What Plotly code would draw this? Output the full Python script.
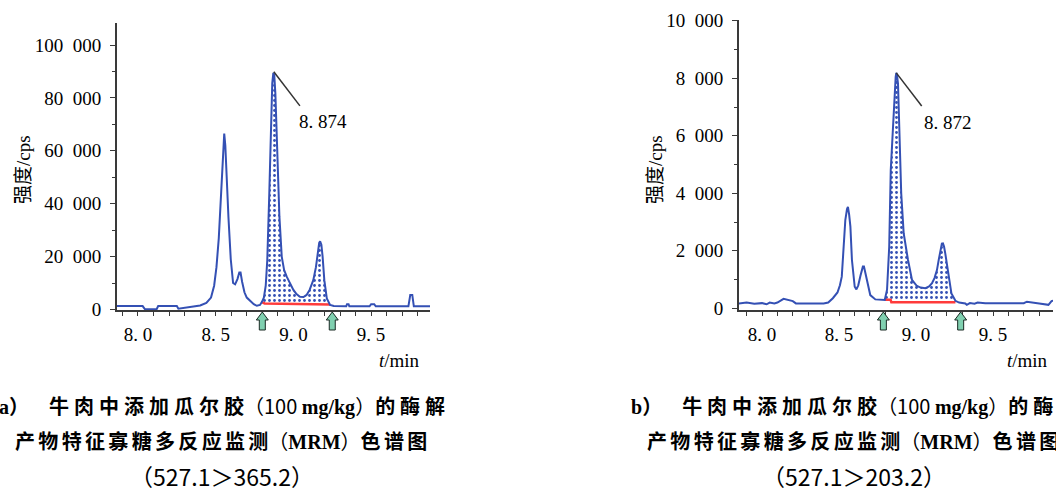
import numpy as np
import plotly.graph_objects as go

W, H = 1056, 488

# ---------------- data: panel a (527.1>365.2) ----------------
time_a = [7.865, 8.03, 8.045, 8.12, 8.13, 8.25, 8.26, 8.40, 8.44, 8.47, 8.49, 8.505,
          8.52, 8.535, 8.548, 8.555, 8.562, 8.570, 8.582, 8.597, 8.612, 8.625, 8.640,
          8.652, 8.660, 8.670, 8.685, 8.700, 8.720, 8.745, 8.765, 8.785, 8.797, 8.810,
          8.822, 8.832, 8.845, 8.854, 8.864, 8.871, 8.877, 8.884, 8.897, 8.910, 8.925,
          8.940, 8.957, 8.980, 9.000, 9.020, 9.042, 9.065, 9.085, 9.105, 9.128, 9.145,
          9.156, 9.166, 9.172, 9.180, 9.188, 9.199, 9.215, 9.236, 9.260, 9.340, 9.345,
          9.355, 9.360, 9.490, 9.500, 9.520, 9.530, 9.740, 9.745, 9.752, 9.765, 9.772,
          9.775, 9.880]
intensity_a = [1300, 1300, 100, 100, 1300, 1300, 300, 1500, 2500, 4500, 9000, 16000,
               27000, 44000, 60000, 66500, 62000, 50000, 35000, 19000, 10000, 9500, 11500,
               14000, 14000, 10500, 6500, 4500, 3200, 2000, 1400, 1700, 2800, 4500,
               9000, 18700, 43900, 67900, 85500, 89500, 88500, 81700, 60300, 35100, 20000,
               15000, 12400, 9500, 7400, 5800, 4800, 4700, 5500, 7500, 11100, 16000,
               21200, 25200, 25800, 24500, 20000, 11100, 4200, 1700, 1300, 1200, 2000,
               2000, 1200, 1200, 2000, 2000, 1200, 1200, 3000, 5500, 5500, 3000,
               1200, 1200]
baseline_a_t = [8.797, 8.815, 9.236]
baseline_a_v = [2800, 2300, 1900]
arrows_a = [8.800, 9.250]
apex_a = (8.874, 89900)
label_a = "8. 874"
leader_end_a = (9.042, 77000)
label_pos_a = (9.020, 71000)

# ---------------- data: panel b (527.1>203.2) ----------------
time_b = [7.850, 7.90, 7.95, 8.00, 8.03, 8.05, 8.08, 8.10, 8.14, 8.16, 8.20, 8.22, 8.30,
          8.40, 8.43, 8.46, 8.49, 8.506, 8.518, 8.530, 8.541, 8.552, 8.558, 8.566, 8.574,
          8.584, 8.602, 8.613, 8.625, 8.640, 8.655, 8.662, 8.670, 8.680, 8.703, 8.736,
          8.797, 8.812, 8.820, 8.826, 8.836, 8.847, 8.859, 8.868, 8.872, 8.877, 8.883,
          8.894, 8.904, 8.920, 8.935, 8.948, 8.974, 9.006, 9.030, 9.061, 9.085, 9.104,
          9.120, 9.136, 9.148, 9.158, 9.168, 9.175, 9.182, 9.190, 9.208, 9.230, 9.256,
          9.280, 9.320, 9.330, 9.350, 9.380, 9.400, 9.450, 9.600, 9.700, 9.720, 9.750,
          9.800, 9.860, 9.880, 9.890]
intensity_b = [170, 200, 160, 180, 140, 200, 170, 200, 330, 300, 250, 170, 170,
               170, 200, 350, 550, 800, 1100, 2140, 3070, 3450, 3530, 3250, 2840,
               1680, 750, 660, 800, 1150, 1450, 1450, 1250, 985, 460, 310,
               290, 650, 1300, 2140, 4810, 5970, 7480, 8050, 8190, 8100, 7820,
               6090, 4000, 2610, 2100, 1680, 985, 775, 720, 700, 760, 870,
               1050, 1330, 1700, 2030, 2250, 2260, 2150, 1910, 1220, 520, 260,
               200, 170, 120, 180, 160, 200, 180, 180, 180, 230, 200,
               170, 120, 250, 260]
baseline_b_t = [8.797, 8.835, 8.840, 9.256]
baseline_b_v = [300, 300, 210, 210]
arrows_b = [8.788, 9.290]
apex_b = (8.872, 8190)
label_b = "8. 872"
leader_end_b = (9.037, 7035)
label_pos_b = (9.040, 6455)

x_tickvals = [8.0, 8.5, 9.0, 9.5]
x_ticktext = ["8. 0", "8. 5", "9. 0", "9. 5"]
y_tickvals_a = [0, 20000, 40000, 60000, 80000, 100000]
y_ticktext_a = ["0", "20\u2002000", "40\u2002000", "60\u2002000", "80\u2002000", "100\u2002000"]
y_tickvals_b = [0, 2000, 4000, 6000, 8000, 10000]
y_ticktext_b = ["0", "2\u2002000", "4\u2002000", "6\u2002000", "8\u2002000", "10\u2002000"]

caption_tags = ["a）", "b）"]
caption_line1 = ("牛肉中添加瓜尔胶", "100", "mg/kg", "的酶解")
caption_line2 = ("产物特征寡糖多反应监测", "MRM", "色谱图")
caption_line3 = ["（527.1＞365.2）", "（527.1＞203.2）"]

BLUE = "#3450b4"
RED = "#ff3b3b"
AX = "#3a3a3a"
SERIF = "Liberation Serif, DejaVu Serif, serif"
CJK = "Noto Sans CJK SC, sans-serif"

fig = go.Figure()


def add_panel(t, v, bt, bv, xa, ya):
    t = np.asarray(t); v = np.asarray(v)
    mask = (t >= bt[0]) & (t <= bt[-1])
    fig.add_trace(go.Scatter(x=bt, y=bv, mode="lines", line=dict(width=0, color=RED),
                             xaxis=xa, yaxis=ya, showlegend=False, hoverinfo="skip"))
    seg_t = np.concatenate([[bt[0]], t[mask], [bt[-1]]])
    seg_v = np.concatenate([[bv[0]], v[mask], [bv[-1]]])
    fig.add_trace(go.Scatter(x=seg_t, y=seg_v, mode="lines", line=dict(width=0, color=BLUE),
                             fill="tonexty", fillcolor="white",
                             fillpattern=dict(shape=".", fgcolor=BLUE, bgcolor="white",
                                              size=5, solidity=0.25),
                             xaxis=xa, yaxis=ya, showlegend=False, hoverinfo="skip"))
    fig.add_trace(go.Scatter(x=bt, y=bv, mode="lines", line=dict(width=2.5, color=RED),
                             xaxis=xa, yaxis=ya, showlegend=False, hoverinfo="skip"))
    fig.add_trace(go.Scatter(x=t, y=v, mode="lines", line=dict(width=2, color=BLUE),
                             xaxis=xa, yaxis=ya, showlegend=False))


add_panel(time_a, intensity_a, baseline_a_t, baseline_a_v, "x", "y")
add_panel(time_b, intensity_b, baseline_b_t, baseline_b_v, "x2", "y2")

px_x = lambda p: p / W
px_y = lambda p: 1 - p / H

common_x = dict(showline=True, linecolor=AX, linewidth=2, ticks="outside", ticklen=4,
                tickwidth=1, tickcolor=AX, tickmode="array", tickvals=x_tickvals,
                ticktext=x_ticktext, showgrid=False, zeroline=False, automargin=False,
                tickfont=dict(family=SERIF, size=19, color="black"),
                ticklabelstandoff=2,
                minor=dict(tickmode="linear", tick0=8.0, dtick=0.1, ticks="outside",
                           ticklen=4, tickcolor=AX, tickwidth=1, showgrid=False))
common_y = dict(showline=True, linecolor=AX, linewidth=2, ticks="outside", ticklen=5,
                tickwidth=1, tickcolor=AX, tickmode="array", showgrid=False, zeroline=False,
                automargin=False,
                tickfont=dict(family=SERIF, size=19, color="black"), ticklabelstandoff=5)

fig.update_layout(
    template="none",
    width=W, height=H, autosize=False,
    margin=dict(l=0, r=0, t=0, b=0, pad=0),
    paper_bgcolor="white", plot_bgcolor="white",
    xaxis=dict(common_x, domain=[px_x(117), px_x(430)], range=[7.865, 9.879], anchor="y"),
    yaxis=dict(common_y, domain=[px_y(310), px_y(23)], range=[-190, 108318], anchor="x",
               tickvals=y_tickvals_a, ticktext=y_ticktext_a,
               minor=dict(tickmode="linear", tick0=0, dtick=10000, ticks="outside",
                          ticklen=3, tickcolor=AX, showgrid=False)),
    xaxis2=dict(common_x, domain=[px_x(739), px_x(1053)], range=[7.8506, 9.8896], anchor="y2"),
    yaxis2=dict(common_y, domain=[px_y(310), px_y(20)], range=[-59, 10029], anchor="x2",
                tickvals=y_tickvals_b, ticktext=y_ticktext_b,
                minor=dict(tickmode="linear", tick0=0, dtick=1000, ticks="outside",
                           ticklen=3, tickcolor=AX, showgrid=False)),
)

shapes = []
annotations = []

for xa, ya, arrows, apex, lend, lpos, lab in [
        ("x", "y", arrows_a, apex_a, leader_end_a, label_pos_a, label_a),
        ("x2", "y2", arrows_b, apex_b, leader_end_b, label_pos_b, label_b)]:
    for t in arrows:
        shapes.append(dict(type="path", xref=xa, yref="paper", xsizemode="pixel",
                           ysizemode="pixel", xanchor=t, yanchor=px_y(310),
                           path="M0,-2 L6,-10 L3,-10 L3,-20 L-3,-20 L-3,-10 L-6,-10 Z",
                           fillcolor="#80d0b0", line=dict(color="#1a2a24", width=1),
                           layer="above"))
    shapes.append(dict(type="line", xref=xa, yref=ya, x0=apex[0], y0=apex[1],
                       x1=lend[0], y1=lend[1], line=dict(color="#333333", width=1.5)))
    annotations.append(dict(xref=xa, yref=ya, x=lpos[0], y=lpos[1], text=lab,
                            showarrow=False, xanchor="left", yanchor="middle",
                            font=dict(family=SERIF, size=19, color="black")))

# axis titles
for cx in [23, 655]:
    annotations.append(dict(xref="paper", yref="paper", x=px_x(cx), y=px_y(170),
                            text="强度/cps", textangle=-90, showarrow=False,
                            xanchor="center", yanchor="middle",
                            font=dict(family="Liberation Serif, Noto Sans CJK SC", size=19,
                                      color="black")))
for rx in [422, 1050]:
    annotations.append(dict(xref="paper", yref="paper", x=px_x(rx), y=px_y(360),
                            text="<i>t</i>/min", showarrow=False, xanchor="right",
                            yanchor="middle",
                            font=dict(family=SERIF, size=19, color="black")))


# captions
def spaced(s, sp):
    return sp.join(list(s))


ser = lambda s: f"<span style='font-family:Liberation Serif'>{s}</span>"
c1, n1, u1, c2 = caption_line1
d1, m2, d2 = caption_line2


def line1(tag):
    return (f"<b>{ser(tag[0])}{tag[1:]}</b>\u2003" + f"<b>{spaced(c1, chr(0x2005))}</b>"
            + f"（{n1} <b>{ser(u1)}</b>）" + f"<b>{spaced(c2, chr(0x2005))}</b>")


line2 = (f"<b>{spaced(d1, chr(0x2006))}</b>" + f"（<b>{ser(m2)}</b>）"
         + f"<b>{spaced(d2, chr(0x2006))}</b>")

for i, off in enumerate([0, 632]):
    annotations.append(dict(xref="paper", yref="paper", x=px_x(-3 + off), y=px_y(405),
                            text=line1(caption_tags[i]), showarrow=False,
                            xanchor="left", yanchor="middle",
                            font=dict(family=CJK, size=20, color="black")))
    annotations.append(dict(xref="paper", yref="paper", x=px_x(13 + off), y=px_y(440),
                            text=line2, showarrow=False,
                            xanchor="left", yanchor="middle",
                            font=dict(family=CJK, size=20, color="black")))
    annotations.append(dict(xref="paper", yref="paper", x=px_x(221.5 + off), y=px_y(476),
                            text=caption_line3[i], showarrow=False,
                            xanchor="center", yanchor="middle",
                            font=dict(family=CJK, size=23, color="black")))

fig.update_layout(shapes=shapes, annotations=annotations)
# remove the default page margin so the 1056x488 figure fills the window exactly
fig.write_html("out.html",
               config={"displayModeBar": False},
               post_script="document.body.style.margin='0px';document.body.style.overflow='hidden';")
